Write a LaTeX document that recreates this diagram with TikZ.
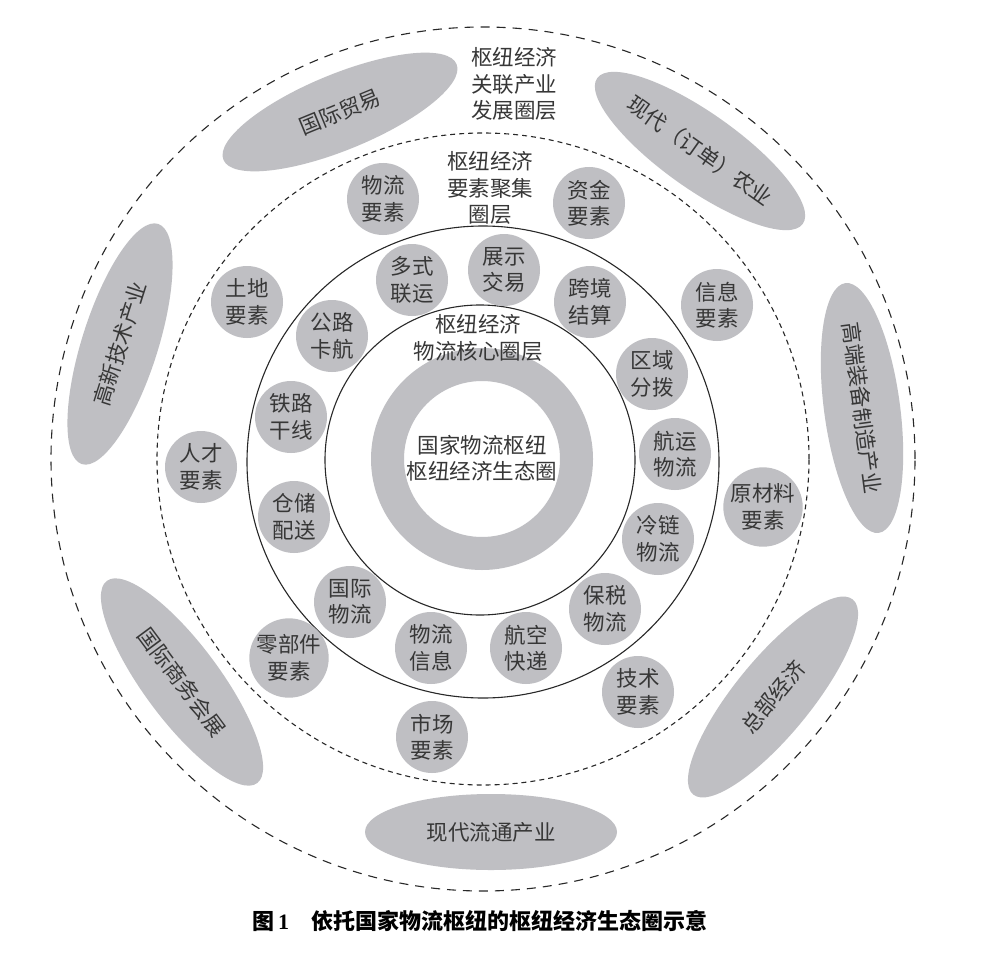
\documentclass[tikz,border=0pt]{standalone}
\usepackage{fontspec}
\setmainfont{Noto Sans CJK SC}
\newfontfamily\cjk{Noto Sans CJK SC}
\newfontfamily\latinserif{Liberation Serif}
\usetikzlibrary{shapes.geometric}
\definecolor{shapegray}{RGB}{191,191,195}
\definecolor{inkgray}{RGB}{55,55,55}
\definecolor{linegray}{RGB}{40,40,40}
\begin{document}
\begin{tikzpicture}[x=1pt,y=-1pt,
  txt/.style={font=\cjk\fontsize{21.5}{26.5}\selectfont, text=inkgray, align=center, inner sep=0pt},
  elem/.style={circle, fill=shapegray, minimum size=72pt, inner sep=0pt, align=center,
    font=\cjk\fontsize{21.5}{26.5}\selectfont, text=inkgray},
  indus/.style={ellipse, fill=shapegray, minimum width=252pt, minimum height=76pt, inner sep=0pt,
    font=\cjk\fontsize{21.5}{26}\selectfont, text=inkgray},
  ringline/.style={circle, draw=linegray, line width=1.1pt, inner sep=0pt},
]
\useasboundingbox (0,0) rectangle (1000,960);
\fill[white] (0,0) rectangle (1000,960);

% concentric rings
\node[ringline, dash pattern=on 9pt off 7pt, minimum size=864pt] (outer) at (483,459) {};
\node[ringline, dash pattern=on 5pt off 4pt, minimum size=652pt] (second) at (483,459) {};
\node[ringline, minimum size=472pt] (middle) at (483,462) {};
\node[ringline, minimum size=310pt] (inner) at (480,460) {};
\node[circle, draw=shapegray, line width=33pt, minimum size=189pt, inner sep=0pt] (core) at (482,459) {};

% ring labels
\node[txt] (lblcore) at (482,458) {国家物流枢纽\\枢纽经济生态圈};
\node[txt] (lblinner) at (478,338) {枢纽经济\\物流核心圈层};
\node[txt] (lblsecond) at (490,188) {枢纽经济\\要素聚集\\圈层};
\node[txt] (lblouter) at (514,84) {枢纽经济\\关联产业\\发展圈层};

% logistics core elements
\node[elem] (e1) at (412,280) {多式\\联运};
\node[elem] (e2) at (504,270) {展示\\交易};
\node[elem] (e3) at (590,302) {跨境\\结算};
\node[elem] (e4) at (652,374) {区域\\分拨};
\node[elem] (e5) at (675,454) {航运\\物流};
\node[elem] (e6) at (658,539) {冷链\\物流};
\node[elem] (e7) at (605,609) {保税\\物流};
\node[elem] (e8) at (526,648) {航空\\快递};
\node[elem] (e9) at (431,648) {物流\\信息};
\node[elem] (e10) at (350,602) {国际\\物流};
\node[elem] (e11) at (294,517) {仓储\\配送};
\node[elem] (e12) at (291,417) {铁路\\干线};
\node[elem] (e13) at (332,336) {公路\\卡航};

% factor elements
\node[elem] (f1) at (383,199) {物流\\要素};
\node[elem] (f2) at (589,203) {资金\\要素};
\node[elem] (f3) at (717,305) {信息\\要素};
\node[elem] (f4) at (763,507) {原材料\\要素};
\node[elem] (f5) at (638,692) {技术\\要素};
\node[elem] (f6) at (432,737) {市场\\要素};
\node[elem] (f7) at (289,658) {零部件\\要素};
\node[elem] (f8) at (201,467) {人才\\要素};
\node[elem] (f9) at (247,302) {土地\\要素};

% related industries
\node[indus, rotate=22.3] (i1) at (340,112) {国际贸易};
\node[indus, rotate=-35.3] (i2) at (700,151) {现代（订单）农业};
\node[indus, rotate=-82.4] (i3) at (862,408) {高端装备制造产业};
\node[indus, rotate=50.7] (i4) at (773,697) {总部经济};
\node[indus] (i5) at (491,832) {现代流通产业};
\node[indus, rotate=-53.4] (i6) at (182,682) {国际商务会展};
\node[indus, rotate=72.4] (i7) at (120,344) {高新技术产业};

% caption
\node[anchor=west, inner sep=0pt, font=\cjk\bfseries\fontsize{22}{26}\selectfont, text=black] (cap) at (252,921)
  {图\hspace{4pt}{\latinserif\bfseries 1}\hspace{22pt}依托国家物流枢纽的枢纽经济生态圈示意};
\end{tikzpicture}
\end{document}
